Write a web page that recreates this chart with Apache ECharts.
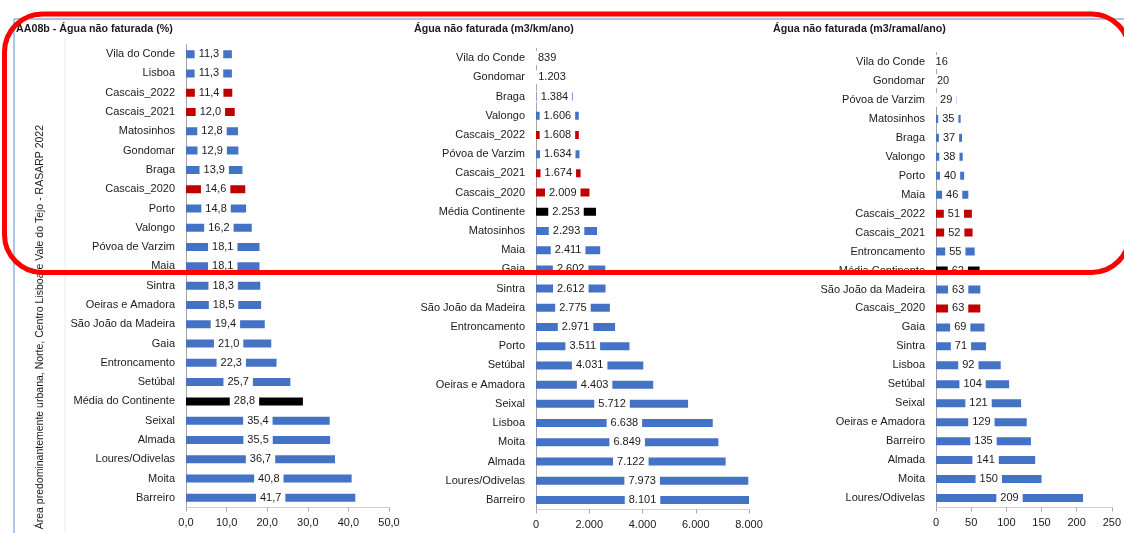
<!DOCTYPE html>
<html>
<head>
<meta charset="utf-8">
<script src="https://cdn.jsdelivr.net/npm/echarts@6/dist/echarts.min.js"></script>
<style>
  html, body { margin: 0; padding: 0; background: #fff; }
  #chart { width: 1124px; height: 533px; }
</style>
</head>
<body>
<div id="chart"></div>
<script>
  // painel 1 - Água não faturada (%)
  var catsPct = ['Vila do Conde', 'Lisboa', 'Cascais_2022', 'Cascais_2021', 'Matosinhos', 'Gondomar', 'Braga',
    'Cascais_2020', 'Porto', 'Valongo', 'Póvoa de Varzim', 'Maia', 'Sintra', 'Oeiras e Amadora',
    'São João da Madeira', 'Gaia', 'Entroncamento', 'Setúbal', 'Média do Continente', 'Seixal', 'Almada',
    'Loures/Odivelas', 'Moita', 'Barreiro']
  var valsPct = [11.3, 11.3, 11.4, 12.0, 12.8, 12.9, 13.9, 14.6, 14.8, 16.2, 18.1, 18.1, 18.3, 18.5,
    19.4, 21.0, 22.3, 25.7, 28.8, 35.4, 35.5, 36.7, 40.8, 41.7]

  // painel 2 - Água não faturada (m3/km/ano)
  var catsKm = ['Vila do Conde', 'Gondomar', 'Braga', 'Valongo', 'Cascais_2022', 'Póvoa de Varzim', 'Cascais_2021',
    'Cascais_2020', 'Média Continente', 'Matosinhos', 'Maia', 'Gaia', 'Sintra', 'São João da Madeira',
    'Entroncamento', 'Porto', 'Setúbal', 'Oeiras e Amadora', 'Seixal', 'Lisboa', 'Moita', 'Almada',
    'Loures/Odivelas', 'Barreiro']
  var valsKm = [839, 1203, 1384, 1606, 1608, 1634, 1674, 2009, 2253, 2293, 2411, 2602, 2612, 2775,
    2971, 3511, 4031, 4403, 5712, 6638, 6849, 7122, 7973, 8101]

  // painel 3 - Água não faturada (m3/ramal/ano)
  var catsRamal = ['Vila do Conde', 'Gondomar', 'Póvoa de Varzim', 'Matosinhos', 'Braga', 'Valongo', 'Porto',
    'Maia', 'Cascais_2022', 'Cascais_2021', 'Entroncamento', 'Média Continente', 'São João da Madeira',
    'Cascais_2020', 'Gaia', 'Sintra', 'Lisboa', 'Setúbal', 'Seixal', 'Oeiras e Amadora', 'Barreiro',
    'Almada', 'Moita', 'Loures/Odivelas']
  var valsRamal = [16, 20, 29, 35, 37, 38, 40, 46, 51, 52, 55, 62, 63, 63, 69, 71, 92, 104, 121, 129,
    135, 141, 150, 209]

  var FONT = "'Liberation Sans', Arial, sans-serif"
  var FS = 11
  var BLUE = '#4472C4'
  var RED = '#C00000'

  function colorFor (name) {
    if (name.indexOf('Cascais') === 0) return RED
    if (name.indexOf('Média') === 0) return '#000000'
    return BLUE
  }

  function fmtPct (v) { return v.toFixed(1).replace('.', ',') }
  function fmtThousands (v) { return String(Math.round(v)).replace(/\B(?=(\d{3})+(?!\d))/g, '.') }
  function fmtInt (v) { return String(Math.round(v)) }

  function makeData (cats, vals) {
    return vals.map(function (v, i) {
      return { value: v, itemStyle: { color: colorFor(cats[i]) } }
    })
  }

  function yAxisFor (idx, cats) {
    return {
      type: 'category',
      gridIndex: idx,
      inverse: true,
      data: cats,
      axisLine: { lineStyle: { color: '#a6a6a6' } },
      axisTick: { length: 4, lineStyle: { color: '#a6a6a6' } },
      axisLabel: { color: '#1a1a1a', fontSize: FS, fontFamily: FONT, margin: 11 }
    }
  }

  function xAxisFor (idx, max, interval, fmt) {
    return {
      type: 'value',
      gridIndex: idx,
      min: 0,
      max: max,
      interval: interval,
      splitLine: { show: false },
      axisLine: { show: true, lineStyle: { color: '#d0d0d0' } },
      axisTick: { show: true, length: 4, lineStyle: { color: '#a6a6a6' } },
      axisLabel: { color: '#1a1a1a', fontSize: FS, fontFamily: FONT, margin: 10, formatter: fmt }
    }
  }

  function seriesFor (idx, cats, vals, fmt) {
    return {
      type: 'bar',
      xAxisIndex: idx,
      yAxisIndex: idx,
      barWidth: 8,
      clip: true,
      data: makeData(cats, vals),
      label: {
        show: true,
        position: 'inside',
        color: '#1a1a1a',
        fontSize: FS,
        fontFamily: FONT,
        backgroundColor: '#ffffff',
        padding: [2, 4, 1, 4],
        formatter: function (p) { return fmt(p.value) }
      }
    }
  }

  var option = {
    animation: false,
    backgroundColor: '#ffffff',
    grid: [
      { left: 186, top: 44.5, width: 203, height: 463 },
      { left: 536, top: 48.5, width: 213, height: 461 },
      { left: 936, top: 52.5, width: 177, height: 455 }
    ],
    xAxis: [
      xAxisFor(0, 50, 10, fmtPct),
      xAxisFor(1, 8000, 2000, fmtThousands),
      xAxisFor(2, 250, 50, fmtInt)
    ],
    yAxis: [
      yAxisFor(0, catsPct),
      yAxisFor(1, catsKm),
      yAxisFor(2, catsRamal)
    ],
    series: [
      seriesFor(0, catsPct, valsPct, fmtPct),
      seriesFor(1, catsKm, valsKm, fmtThousands),
      seriesFor(2, catsRamal, valsRamal, fmtInt)
    ],
    graphic: [
      // moldura do gráfico
      { type: 'line', z: 1, shape: { x1: 14, y1: 19, x2: 1124, y2: 19 }, style: { stroke: '#95B3D7', lineWidth: 1.5 } },
      { type: 'line', z: 1, shape: { x1: 14, y1: 19, x2: 14, y2: 533 }, style: { stroke: '#95B3D7', lineWidth: 1.5 } },
      { type: 'line', z: 1, shape: { x1: 65, y1: 38, x2: 65, y2: 533 }, style: { stroke: '#ececec', lineWidth: 1 } },
      // títulos
      { type: 'text', z: 5, left: 16, top: 24, style: { text: 'AA08b - Água não faturada (%)', fontSize: 10.7, fontWeight: 'bold', fontFamily: FONT, fill: '#1a1a1a' } },
      { type: 'text', z: 5, left: 414, top: 24, style: { text: 'Água não faturada (m3/km/ano)', fontSize: 10.7, fontWeight: 'bold', fontFamily: FONT, fill: '#1a1a1a' } },
      { type: 'text', z: 5, left: 773, top: 24, style: { text: 'Água não faturada (m3/ramal/ano)', fontSize: 10.7, fontWeight: 'bold', fontFamily: FONT, fill: '#1a1a1a' } },
      // texto vertical
      {
        type: 'text', z: 5, x: 40, y: 125, rotation: Math.PI / 2,
        style: {
          text: 'Área predominantemente urbana, Norte, Centro Lisboa e Vale do Tejo - RASARP 2022',
          fontSize: 10.5, fontFamily: FONT, fill: '#1a1a1a', align: 'right', verticalAlign: 'middle'
        }
      },
      // destaque vermelho
      {
        type: 'rect', z: 100,
        shape: { x: 4.5, y: 14, width: 1125, height: 258.5, r: 38 },
        style: { fill: 'none', stroke: '#ff0000', lineWidth: 5 }
      }
    ]
  }

  var chart = echarts.init(document.getElementById('chart'))
  chart.setOption(option)
</script>
</body>
</html>
